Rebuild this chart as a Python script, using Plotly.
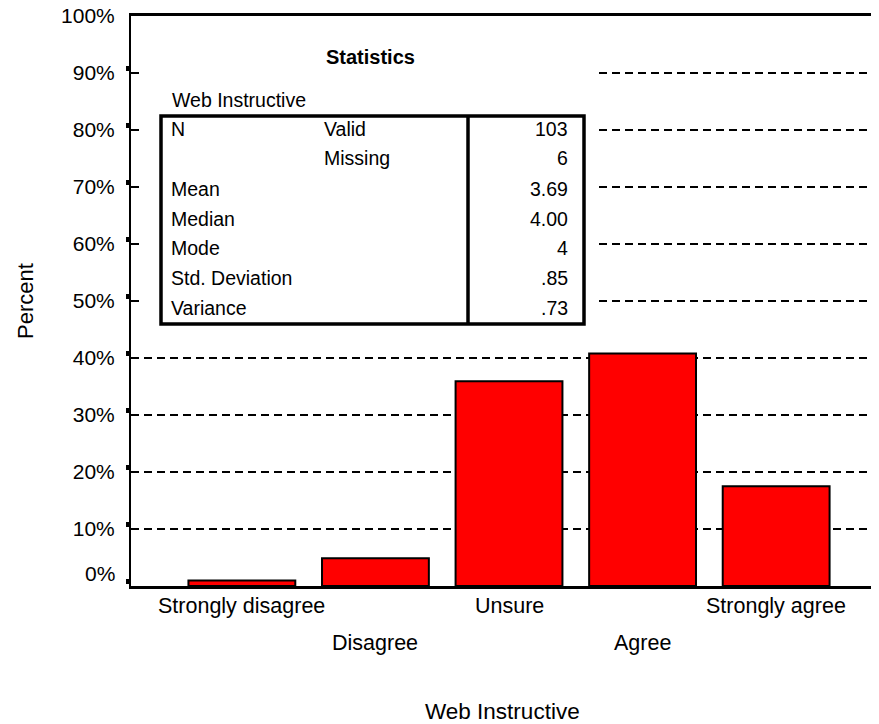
import plotly.graph_objects as go

categories = ["Strongly disagree", "Disagree", "Unsure", "Agree", "Strongly agree"]
percent = [0.97, 4.85, 35.92, 40.78, 17.48]
y_ticks = [0, 10, 20, 30, 40, 50, 60, 70, 80, 90, 100]
y_ticklabels = [f"{v}%" for v in y_ticks]

stat_title = "Statistics"
stat_var = "Web Instructive"
stat_labels = ["N", "", "Mean", "Median", "Mode", "Std. Deviation", "Variance"]
stat_sublabels = ["Valid", "Missing", "", "", "", "", ""]
stat_values = ["103", "6", "3.69", "4.00", "4", ".85", ".73"]

OFF = 8  # browser body margin
W, H = 879 - OFF, 724 - OFF
L, R, T, B = 131 - OFF, 0, 16 - OFF, 138
PW, PH = W - L - R, H - T - B
FONT = "Liberation Sans, Arial, sans-serif"


def px(x):
    # x: pixel position in the final screenshot
    return (x - 131) / PW


def py(y):
    return (586 - y) / PH


fig = go.Figure()
fig.add_trace(go.Bar(
    x=list(range(len(categories))), y=percent, width=0.8,
    marker=dict(color="#ff0000", line=dict(color="black", width=2)),
    showlegend=False, hoverinfo="skip",
))
fig.add_trace(go.Scatter(x=[None], y=[None], yaxis="y2", showlegend=False, hoverinfo="skip"))

annotations = []
for i, c in enumerate(categories):
    annotations.append(dict(
        x=i, y=0, xref="x", yref="paper", text=c, showarrow=False,
        yanchor="middle", yshift=-20 if i % 2 == 0 else -57,
        font=dict(size=21.5, color="black", family=FONT),
    ))
# lowest tick label sits raised above the baseline
annotations.append(dict(x=0, y=y_ticks[0], xref="paper", yref="y", text=y_ticklabels[0],
                        showarrow=False, xanchor="right", yanchor="middle",
                        xshift=-14, yshift=13,
                        font=dict(size=21, color="black", family=FONT)))
annotations.append(dict(x=px(25), y=0.5, xref="paper", yref="paper", text="Percent",
                        textangle=-90, showarrow=False, xanchor="center", yanchor="middle",
                        font=dict(size=22, color="black", family=FONT)))
annotations.append(dict(x=px(502), y=py(711), xref="paper", yref="paper", text="Web Instructive",
                        showarrow=False, xanchor="center", yanchor="middle",
                        font=dict(size=22.5, color="black", family=FONT)))

# Statistics table
annotations.append(dict(x=px(370), y=py(57), xref="paper", yref="paper", text="<b>" + stat_title + "</b>",
                        showarrow=False, xanchor="center", yanchor="middle",
                        font=dict(size=20, color="black", family=FONT)))
annotations.append(dict(x=px(170), y=py(100), xref="paper", yref="paper", text=stat_var,
                        showarrow=False, xanchor="left", yanchor="middle",
                        font=dict(size=19.5, color="black", family=FONT)))
row_y = [129, 158, 189, 219, 248, 278, 308]
for ry, a, b, v in zip(row_y, stat_labels, stat_sublabels, stat_values):
    if a:
        annotations.append(dict(x=px(169), y=py(ry), xref="paper", yref="paper", text=a,
                                showarrow=False, xanchor="left", yanchor="middle",
                                font=dict(size=19.5, color="black", family=FONT)))
    if b:
        annotations.append(dict(x=px(322), y=py(ry), xref="paper", yref="paper", text=b,
                                showarrow=False, xanchor="left", yanchor="middle",
                                font=dict(size=19.5, color="black", family=FONT)))
    annotations.append(dict(x=px(570), y=py(ry), xref="paper", yref="paper", text=v,
                            showarrow=False, xanchor="right", yanchor="middle",
                            font=dict(size=19.5, color="black", family=FONT)))

shapes = [
    dict(type="rect", xref="paper", yref="paper", x0=px(139), x1=px(597), y0=py(336), y1=py(40),
         fillcolor="white", line=dict(width=0), layer="above"),
    dict(type="rect", xref="paper", yref="paper", x0=px(161), x1=px(584), y0=py(324), y1=py(116),
         fillcolor="rgba(0,0,0,0)", line=dict(color="black", width=3.5), layer="above"),
    dict(type="line", xref="paper", yref="paper", x0=px(468), x1=px(468), y0=py(324), y1=py(116),
         line=dict(color="black", width=3.5), layer="above"),
]

fig.update_layout(
    width=W, height=H,
    margin=dict(l=L, r=R, t=T, b=B, autoexpand=False),
    paper_bgcolor="white", plot_bgcolor="white",
    font=dict(family=FONT, size=21, color="black"),
    bargap=0.2,
    xaxis=dict(range=[-0.83, 4.77], showticklabels=False, ticks="", showgrid=False,
               zeroline=False, showline=True, linecolor="black", linewidth=2.5, mirror=True,
               automargin=False),
    yaxis=dict(range=[0, 100], tickvals=y_ticks, ticktext=[""] + y_ticklabels[1:], ticks="inside",
               ticklen=7, tickwidth=2, tickcolor="black", showgrid=True, gridcolor="black",
               gridwidth=2, griddash="8px,5px", zeroline=False, showline=True,
               linecolor="black", linewidth=2, ticklabelstandoff=10,
               ticklabeloverflow="allow", automargin=False,
               tickfont=dict(size=21, color="black", family=FONT)),
    yaxis2=dict(range=[-0.8, 99.2], overlaying="y", side="left", tickvals=y_ticks,
                showticklabels=False, ticks="outside", ticklen=4, tickwidth=5,
                tickcolor="black", showgrid=False, zeroline=False, showline=False,
                automargin=False),
    annotations=annotations,
    shapes=shapes,
)

fig.write_html("out.html")
